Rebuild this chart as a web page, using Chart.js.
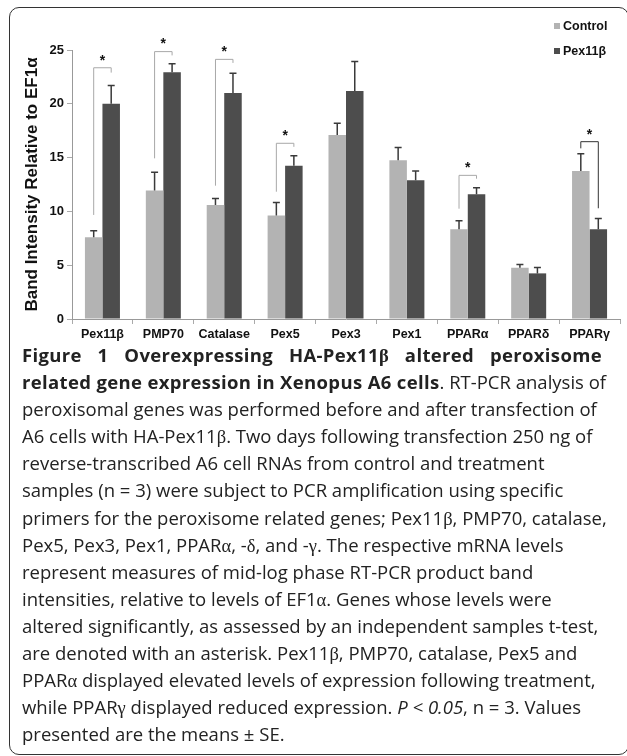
<!DOCTYPE html>
<html>
<head>
<meta charset="utf-8">
<script src="https://cdn.jsdelivr.net/npm/chart.js@4/dist/chart.umd.min.js"></script>
<style>
  html, body { margin: 0; padding: 0; background: #fff; }
  body { width: 627px; height: 756px; position: relative; overflow: hidden; }
  #frame {
    position: absolute; left: 9px; top: 7px; width: 620px; height: 748px;
    box-sizing: border-box; border: 1.5px solid #333; border-radius: 10px;
  }
  #chartBox { position: absolute; left: 0; top: 0; width: 627px; height: 345px; }
  #caption {
    position: absolute; left: 22px; top: 341px; width: 580px;
    font-family: "Open Sans", sans-serif; font-size: 18.5px; color: #222;
  }
  #caption div { height: 27.1px; line-height: 27.1px; white-space: nowrap; }
  #caption b { letter-spacing: 0.35px; }
  #caption .just { text-align: justify; text-align-last: justify; }
  .g { font-family: "Liberation Serif", serif; }
</style>
</head>
<body>
<div id="frame"></div>
<div id="chartBox"><canvas id="chart" width="627" height="345"></canvas></div>
<div id="caption">
  <div class="just"><b>Figure 1 Overexpressing HA-Pex11<span class="g">β</span> altered peroxisome</b></div>
  <div><b>related gene expression in Xenopus A6 cells</b>. RT-PCR analysis of</div>
  <div>peroxisomal genes was performed before and after transfection of</div>
  <div>A6 cells with HA-Pex11<span class="g">β</span>. Two days following transfection 250 ng of</div>
  <div>reverse-transcribed A6 cell RNAs from control and treatment</div>
  <div>samples (n = 3) were subject to PCR amplification using specific</div>
  <div>primers for the peroxisome related genes; Pex11<span class="g">β</span>, PMP70, catalase,</div>
  <div>Pex5, Pex3, Pex1, PPAR<span class="g">α</span>, -<span class="g">δ</span>, and -<span class="g">γ</span>. The respective mRNA levels</div>
  <div>represent measures of mid-log phase RT-PCR product band</div>
  <div>intensities, relative to levels of EF1<span class="g">α</span>. Genes whose levels were</div>
  <div>altered significantly, as assessed by an independent samples t-test,</div>
  <div>are denoted with an asterisk. Pex11<span class="g">β</span>, PMP70, catalase, Pex5 and</div>
  <div>PPAR<span class="g">α</span> displayed elevated levels of expression following treatment,</div>
  <div>while PPAR<span class="g">γ</span> displayed reduced expression. <i>P &lt; 0.05</i>, n = 3. Values</div>
  <div>presented are the means ± SE.</div>
</div>
<script>
// categories
const genes = ["Pex11β", "PMP70", "Catalase", "Pex5", "Pex3", "Pex1", "PPARα", "PPARδ", "PPARγ"];

// means and SE
const controlMeans = [7.6, 11.95, 10.6, 9.63, 17.1, 14.75, 8.33, 4.77, 13.75];
const controlSE = [0.6, 1.7, 0.6, 1.2, 1.1, 1.2, 0.8, 0.3, 1.6];
const pexMeans = [20.0, 22.93, 21.0, 14.25, 21.19, 12.89, 11.59, 4.24, 8.33];
const pexSE = [1.7, 0.8, 1.85, 0.93, 2.75, 0.86, 0.6, 0.55, 1.0];

const yTicks = [0, 5, 10, 15, 20, 25];

// significance brackets: category index, top of bracket, ends of left / right legs
const sigIndex = [0, 1, 2, 3, 6, 8];
const sigTop = [23.35, 24.85, 24.13, 16.33, 13.35, 16.48];
const sigLeftEnd = [9.67, 14.93, 12.39, 11.83, 10.25, 15.86];
const sigRightEnd = [22.9, 24.5, 23.8, 16.0, 13.04, 10.29];

const seriesNames = ["Control", "Pex11β"];
const seriesColors = ["#b3b3b3", "#4d4d4d"];

const boldFont = '"Liberation Sans", Arial, sans-serif';

// error bars, brackets and legend
const extras = {
  id: "extras",
  afterDatasetsDraw(chart) {
    const ctx = chart.ctx;
    const y = chart.scales.y;
    const errs = [controlSE, pexSE];

    ctx.save();
    ctx.strokeStyle = "#3a3a3a";
    ctx.lineWidth = 1.5;
    chart.data.datasets.forEach((ds, i) => {
      chart.getDatasetMeta(i).data.forEach((bar, j) => {
        const yTop = y.getPixelForValue(ds.data[j] + errs[i][j]);
        ctx.beginPath();
        ctx.moveTo(bar.x, bar.y);
        ctx.lineTo(bar.x, yTop);
        ctx.moveTo(bar.x - 3.5, yTop);
        ctx.lineTo(bar.x + 3.5, yTop);
        ctx.stroke();
      });
    });

    const m0 = chart.getDatasetMeta(0).data;
    const m1 = chart.getDatasetMeta(1).data;
    sigIndex.forEach((idx, k) => {
      const xl = m0[idx].x;
      const xr = m1[idx].x;
      const yt = y.getPixelForValue(sigTop[k]);
      ctx.strokeStyle = idx === 8 ? "#333" : "#a8a8a8";
      ctx.lineWidth = 1;
      ctx.beginPath();
      ctx.moveTo(xl, y.getPixelForValue(sigLeftEnd[k]));
      ctx.lineTo(xl, yt);
      ctx.lineTo(xr, yt);
      ctx.lineTo(xr, y.getPixelForValue(sigRightEnd[k]));
      ctx.stroke();
      ctx.fillStyle = "#111";
      ctx.font = "bold 14px " + boldFont;
      ctx.textAlign = "center";
      ctx.textBaseline = "middle";
      ctx.fillText("*", (xl + xr) / 2, yt - 7);
    });

    // legend, top right
    ctx.font = "bold 12.5px " + boldFont;
    ctx.textAlign = "left";
    ctx.textBaseline = "middle";
    seriesNames.forEach((name, i) => {
      const cy = 26 + i * 25;
      ctx.fillStyle = seriesColors[i];
      ctx.fillRect(554, cy - 3, 6, 6);
      ctx.fillStyle = "#111";
      ctx.fillText(name, 563, cy + 1);
    });
    ctx.restore();
  },
};

new Chart("chart", {
  type: "bar",
  data: {
    labels: genes,
    datasets: [
      { label: seriesNames[0], data: controlMeans, backgroundColor: seriesColors[0] },
      { label: seriesNames[1], data: pexMeans, backgroundColor: seriesColors[1] },
    ],
  },
  options: {
    responsive: false,
    animation: false,
    events: [],
    layout: { padding: { left: 0, right: 7, top: 50, bottom: 0 } },
    datasets: { bar: { categoryPercentage: 0.575, barPercentage: 1.0 } },
    plugins: { legend: { display: false }, tooltip: { enabled: false } },
    scales: {
      x: {
        afterFit: (s) => { s.height = 26; },
        grid: { offset: true, drawOnChartArea: false, tickLength: 5, color: "#aaa" },
        border: { color: "#999" },
        ticks: { color: "#111", padding: 3, font: { family: boldFont, weight: "bold", size: 12.5 } },
      },
      y: {
        min: 0,
        max: 25,
        afterFit: (s) => { s.width = 72; },
        afterBuildTicks: (s) => { s.ticks = yTicks.map((v) => ({ value: v })); },
        grid: { drawOnChartArea: false, tickLength: 5, color: "#aaa" },
        border: { color: "#999" },
        ticks: { color: "#111", padding: 3, font: { family: boldFont, weight: "bold", size: 13 } },
        title: {
          display: true,
          text: "Band Intensity Relative to EF1α",
          color: "#111",
          font: { family: boldFont, weight: "bold", size: 17 },
          padding: { top: 22, bottom: 0 },
        },
      },
    },
  },
  plugins: [extras],
});
</script>
</body>
</html>
